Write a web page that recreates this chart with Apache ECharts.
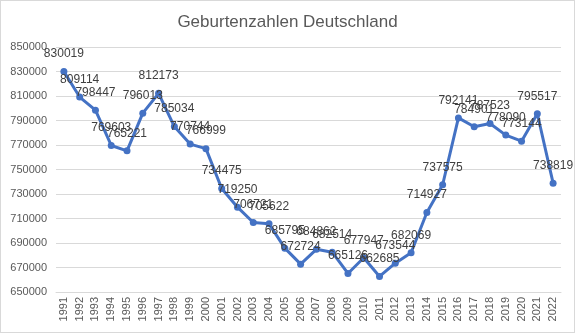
<!DOCTYPE html>
<html><head><meta charset="utf-8">
<script src="https://cdn.jsdelivr.net/npm/echarts@6/dist/echarts.min.js"></script>
<style>html,body{margin:0;padding:0;background:#fff}#c{width:575px;height:333px;box-sizing:border-box;border:1px solid #d9d9d9}</style>
</head><body><div id="c"></div>
<script>
const years = ['1991','1992','1993','1994','1995','1996','1997','1998','1999','2000','2001','2002','2003','2004','2005','2006','2007','2008','2009','2010','2011','2012','2013','2014','2015','2016','2017','2018','2019','2020','2021','2022'];
const births = [830019,809114,798447,769603,765221,796013,812173,785034,770744,766999,734475,719250,706721,705622,685795,672724,684862,682514,665126,677947,662685,673544,682069,714927,737575,792141,784901,787523,778090,773144,795517,738819];
const yMin = 650000, yMax = 850000, yStep = 20000;
const chart = echarts.init(document.getElementById('c'));
const ff = '"Liberation Sans", Arial, sans-serif';
chart.setOption({
  animation:false,
  textStyle:{fontFamily:ff},
  title:{text:'Geburtenzahlen Deutschland',left:'center',top:8,textStyle:{fontFamily:ff,fontSize:17,fontWeight:'normal',color:'#595959'}},
  grid:{left:55,right:13,top:46,bottom:40},
  xAxis:{type:'category',data:years,boundaryGap:true,
    axisLine:{lineStyle:{color:'#d9d9d9'}},axisTick:{show:false},
    axisLabel:{rotate:90,color:'#595959',fontSize:11,fontFamily:ff,margin:5,interval:0}},
  yAxis:{type:'value',min:yMin,max:yMax,interval:yStep,
    axisLine:{show:false},axisTick:{show:false},
    splitLine:{lineStyle:{color:'#d9d9d9'}},
    axisLabel:{color:'#595959',fontSize:11,fontFamily:ff,margin:9,formatter:v=>String(v)}},
  series:[{type:'line',data:births,color:'#4472C4',
    lineStyle:{width:3,color:'#4472C4'},symbol:'circle',symbolSize:7,
    itemStyle:{color:'#4472C4'},
    label:{show:true,position:'top',distance:8,color:'#404040',fontSize:12,fontFamily:ff}}]
});
</script></body></html>
